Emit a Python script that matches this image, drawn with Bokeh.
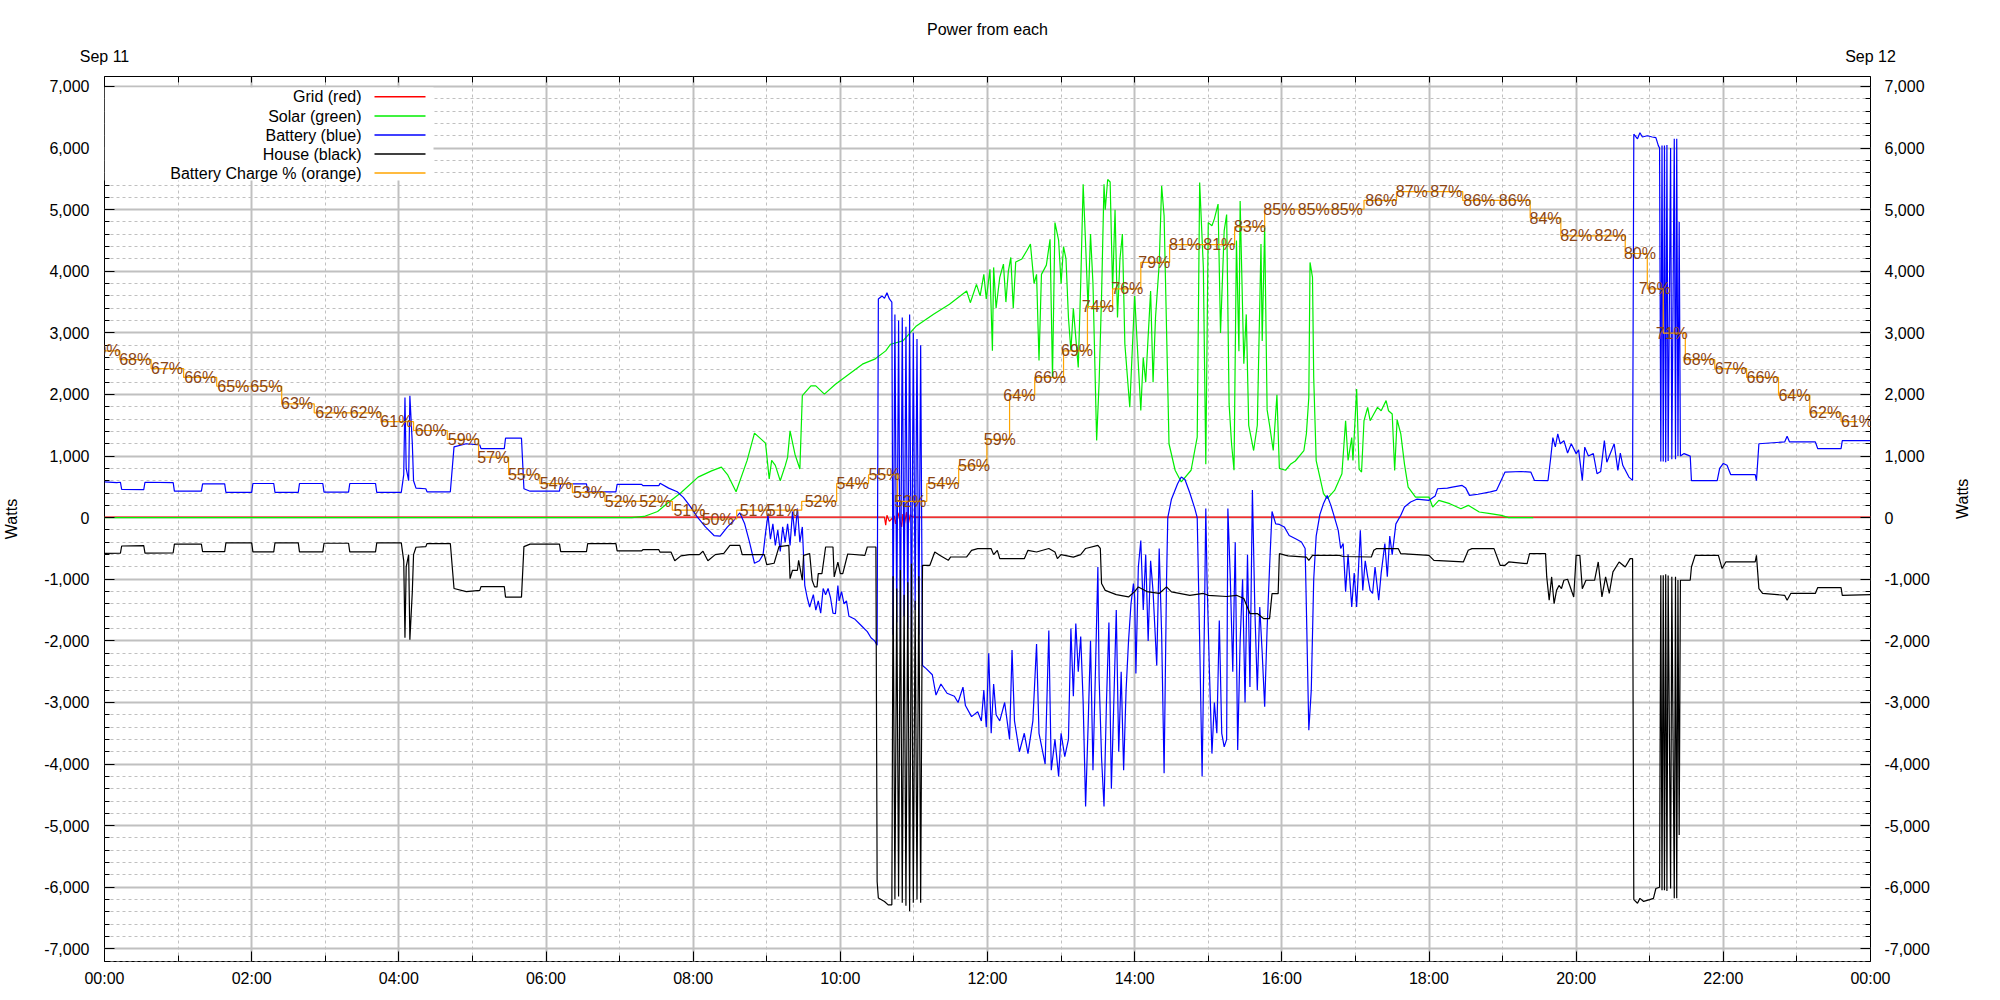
import math
from bokeh.plotting import figure
from bokeh.models import (Range1d, LinearAxis, FixedTicker, CustomJSTickFormatter,
                          NumeralTickFormatter, Label, LabelSet, BoxAnnotation, ColumnDataSource)
from bokeh.core.properties import value
from bokeh.embed import file_html
from bokeh.resources import INLINE

# ---------------- data ----------------
TITLE = "Power from each"
DAY_START = "Sep 11"
DAY_END = "Sep 12"
Y_LABEL = "Watts"
LEGEND_LABELS = ["Grid (red)", "Solar (green)", "Battery (blue)", "House (black)",
                 "Battery Charge % (orange)"]

grid_time = ["00:00", "07:10", "10:36", "10:37", "10:38", "10:40", "10:44", "10:45", "10:47",
             "10:50", "10:51", "10:52", "10:54", "10:55", "10:57", "10:58", "11:00", "24:00"]
grid_watts = [8, 8, 10, -120, 40, -60, 30, -100, 80, -150, 60, -130, 90, -140, 50, 20, 10, 10]

solar_time = ["00:00", "07:10", "07:20", "07:31", "07:40", "07:50", "08:04", "08:15", "08:23", "08:28",
              "08:35", "08:44", "08:50", "08:59", "09:02", "09:04", "09:07", "09:11", "09:15", "09:17",
              "09:19", "09:23", "09:27", "09:29", "09:36", "09:40", "09:47", "09:56", "10:07", "10:18",
              "10:28", "10:37", "10:41", "10:51", "11:02", "11:16", "11:29", "11:43", "11:46", "11:51",
              "11:54", "11:57", "11:59", "12:02", "12:04", "12:05", "12:07", "12:10", "12:13", "12:15",
              "12:17", "12:19", "12:21", "12:23", "12:28", "12:32", "12:35", "12:38", "12:40", "12:42",
              "12:44", "12:48", "12:51", "12:53", "12:55", "12:58", "13:00", "13:02", "13:04", "13:06",
              "13:08", "13:10", "13:14", "13:16", "13:18", "13:20", "13:22", "13:24", "13:26", "13:29",
              "13:31", "13:33", "13:35", "13:36", "13:38", "13:40", "13:42", "13:44", "13:46", "13:48",
              "13:50", "13:52", "13:56", "13:58", "14:00", "14:05", "14:07", "14:09", "14:13", "14:15",
              "14:17", "14:20", "14:22", "14:24", "14:28", "14:33", "14:38", "14:46", "14:51", "14:53",
              "14:56", "14:58", "15:00", "15:03", "15:05", "15:08", "15:10", "15:13", "15:15", "15:17",
              "15:19", "15:21", "15:23", "15:25", "15:26", "15:29", "15:31", "15:33", "15:37", "15:40",
              "15:43", "15:44", "15:46", "15:48", "15:50", "15:53", "15:56", "15:58", "16:03", "16:07",
              "16:11", "16:18", "16:20", "16:22", "16:23", "16:25", "16:26", "16:28", "16:34", "16:37",
              "16:43", "16:49", "16:52", "16:54", "16:57", "16:58", "17:01", "17:03", "17:05", "17:07",
              "17:10", "17:12", "17:15", "17:18", "17:21", "17:25", "17:27", "17:30", "17:32", "17:34",
              "17:37", "17:40", "17:43", "17:49", "18:00", "18:03", "18:08", "18:17", "18:26", "18:32",
              "18:41", "18:50", "18:59", "19:05", "19:25"]
solar_watts = [0, 0, 20, 100, 250, 405, 658, 760, 820, 700,
               420, 930, 1372, 1210, 630, 930, 850, 600, 840, 980,
               1410, 1030, 790, 1980, 2140, 2140, 2005, 2167, 2330, 2492,
               2573, 2708, 2816, 2870, 3113, 3302, 3464, 3680, 3490, 3788,
               3600, 3950, 3550, 4031, 2711, 4063, 3400, 3900, 4117, 3500,
               4000, 4225, 3400, 4150, 4200, 4333, 4441, 3800, 3950, 2550,
               3950, 4100, 4520, 2277, 4790, 4500, 3800, 4400, 4200, 3250,
               2711, 3400, 2440, 3800, 5413, 4441, 3400, 4603, 3800, 1252,
               2200, 3600, 5413, 5000, 5490, 5450, 3700, 5000, 3250, 4200,
               4603, 2820, 1793, 2700, 3600, 1740, 2600, 2200, 3680, 2200,
               3250, 4117, 5386, 4900, 1200, 770, 580, 770, 1307, 5440,
               4063, 866, 4790, 4740, 4850, 5090, 3000, 4660, 4920, 1847,
               1200, 770, 4500, 2700, 5140, 2500, 3300, 1500, 1090, 1500,
               4441, 2870, 4710, 1750, 1500, 1090, 1994, 800, 770, 866,
               920, 1090, 1360, 1950, 4143, 3900, 2270, 928, 389, 308,
               443, 713, 1574, 928, 1300, 928, 2090, 790, 740, 1574,
               1790, 1574, 1682, 1790, 1736, 1900, 1736, 1682, 766, 1590,
               1360, 870, 497, 335, 335, 172, 281, 227, 146, 200,
               92, 65, 38, 0, 0]

battery_time = ["00:00", "00:10", "00:13", "00:14", "00:32", "00:33", "00:56", "00:57", "01:19", "01:20",
                "01:38", "01:39", "02:00", "02:01", "02:18", "02:19", "02:38", "02:39", "02:58", "02:59",
                "03:19", "03:20", "03:41", "03:42", "04:02", "04:04", "04:05", "04:06", "04:08", "04:09",
                "04:11", "04:12", "04:14", "04:22", "04:23", "04:42", "04:45", "04:55", "05:06", "05:07",
                "05:26", "05:27", "05:40", "05:42", "05:47", "06:11", "06:12", "06:33", "06:34", "06:57",
                "06:58", "07:18", "07:19", "07:32", "07:33", "07:40", "07:47", "07:52", "07:57", "08:03",
                "08:10", "08:17", "08:22", "08:28", "08:33", "08:38", "08:42", "08:46", "08:50", "08:54",
                "08:57", "08:59", "09:01", "09:03", "09:05", "09:07", "09:09", "09:11", "09:13", "09:15",
                "09:17", "09:19", "09:21", "09:23", "09:25", "09:27", "09:29", "09:31", "09:33", "09:35",
                "09:38", "09:40", "09:42", "09:44", "09:46", "09:48", "09:50", "09:52", "09:54", "09:56",
                "09:58", "09:59", "10:01", "10:03", "10:05", "10:07", "10:12", "10:17", "10:22", "10:25",
                "10:28", "10:30", "10:31", "10:34", "10:36", "10:38", "10:40", "10:42",
                "10:43:00", "10:44:30", "10:46:00", "10:47:30", "10:49:00", "10:50:30", "10:52:00",
                "10:53:30", "10:55:00", "10:56:30", "10:58:00", "10:59:30", "11:01:00", "11:02:30",
                "11:04:00", "11:05:30", "11:07:00",
                "11:10", "11:15", "11:18", "11:22", "11:27", "11:33", "11:36",
                "11:40", "11:42", "11:47", "11:52", "11:55", "11:57", "11:59", "12:01", "12:03", "12:05",
                "12:07", "12:10", "12:14", "12:18", "12:20", "12:22", "12:26", "12:30", "12:33", "12:37",
                "12:40", "12:42", "12:44", "12:47", "12:50", "12:52", "12:55", "12:58", "13:00", "13:03",
                "13:06", "13:08", "13:10", "13:12", "13:14", "13:16", "13:18", "13:20", "13:22", "13:24",
                "13:26", "13:28", "13:30", "13:31", "13:33", "13:35", "13:37", "13:39", "13:41", "13:43",
                "13:45", "13:47", "13:49", "13:51", "13:53", "13:55", "13:57", "13:59", "14:00", "14:01",
                "14:03", "14:05", "14:07", "14:09", "14:11", "14:13", "14:15", "14:18", "14:20", "14:22",
                "14:24", "14:26", "14:27", "14:30", "14:35", "14:38", "14:41", "14:45", "14:49", "14:51",
                "14:53", "14:55", "14:57", "14:58", "14:59", "15:01", "15:03", "15:05", "15:07", "15:09",
                "15:11", "15:13", "15:15", "15:16", "15:18", "15:20", "15:22", "15:24", "15:26", "15:28",
                "15:30", "15:32", "15:34", "15:36", "15:38", "15:40", "15:42", "15:44", "15:46", "15:48",
                "15:50", "15:52", "15:55", "15:58", "16:02", "16:06", "16:12", "16:16", "16:19", "16:20",
                "16:22", "16:24", "16:26", "16:28", "16:31", "16:34", "16:37", "16:40", "16:43", "16:46",
                "16:48", "16:50", "16:52", "16:54", "16:57", "16:59", "17:01", "17:04", "17:06", "17:08",
                "17:10", "17:12", "17:14", "17:16", "17:19", "17:21", "17:24", "17:26", "17:28", "17:30",
                "17:33", "17:37", "17:40", "17:45", "17:50", "18:00", "18:05", "18:07", "18:15", "18:19",
                "18:27", "18:30", "18:33", "18:40", "18:50", "18:55", "19:02", "19:15", "19:23", "19:26",
                "19:37", "19:39", "19:41", "19:43", "19:45", "19:47", "19:50", "19:53", "19:56", "20:00",
                "20:02", "20:05", "20:07", "20:10", "20:14", "20:17", "20:20", "20:23", "20:25", "20:28",
                "20:31", "20:34", "20:36", "20:38", "20:43", "20:46", "20:47", "20:50", "20:52", "20:54",
                "20:58", "21:02", "21:05", "21:07", "21:08", "21:09", "21:10", "21:11", "21:12", "21:13",
                "21:14", "21:15", "21:17", "21:18", "21:20", "21:21", "21:22", "21:23", "21:24", "21:25",
                "21:28", "21:33", "21:34", "21:55", "21:57", "22:00", "22:03", "22:06", "22:26", "22:27",
                "22:29", "22:50", "22:52", "22:54", "23:15", "23:17", "23:36", "23:37", "24:00"]
battery_watts = [580, 570, 575, 460, 455, 575, 570, 430, 430, 550,
                 550, 410, 410, 555, 555, 410, 410, 555, 555, 415,
                 415, 555, 555, 410, 410, 700, 1950, 800, 600, 1980,
                 1200, 600, 480, 470, 420, 420, 1150, 1200, 1180, 1120,
                 1120, 1290, 1290, 470, 430, 430, 550, 550, 420, 420,
                 540, 540, 520, 520, 560, 480, 420, 330, 200, 20,
                 -150, -290, -300, -150, -50, 80, -100, -400, -740, -700,
                 -600, -250, 50, -350, -100, -450, -200, -550, -150, -400,
                 -100, -450, 100, -300, 150, -400, -150, -1100, -1300, -1450,
                 -1250, -1500, -1350, -1550, -1150, -1250, -1150, -1300, -1550, -1560,
                 -1100, -1350, -1200, -1400, -1350, -1600, -1650, -1750, -1850, -1950,
                 -2000, -2070, 3550, 3600, 3560, 3650, 3550, 3500,
                 -1900, 3300, -1700, 3200, -2000, 3250, -1600,
                 3100, -1800, 3300, -2100, 3000, -1500, 2900,
                 -1900, 2800, -2400,
                 -2450, -2550, -2880, -2700, -2850, -2900, -3000,
                 -2750, -3050, -3230, -3150, -3300, -2800, -3400, -2200, -3500, -2700,
                 -3200, -3300, -3000, -3600, -2150, -3300, -3800, -3500, -3830, -3300,
                 -2050, -3500, -3700, -4000, -1830, -4100, -3600, -4200, -3500, -3880,
                 -3600, -1800, -2900, -1720, -2500, -1930, -3000, -4690, -3400, -2000,
                 -4100, -2500, -800, -2600, -3900, -4690, -3000, -1700, -4400, -3000,
                 -1500, -3800, -2500, -4100, -2800, -2000, -1400, -1070, -1300, -2530,
                 -800, -370, -1500, -600, -2000, -700, -1200, -2400, -500, -1900,
                 -4150, -1000, 0, 300, 550, 660, 620, 400, 150, 0,
                 -2000, -4200, -1500, 150, -1000, -2530, -3830, -3000, -3500, -1670,
                 -3500, -3720, -3600, 150, -1000, -2500, -400, -3770, -2000, -1000,
                 -3000, -600, -2750, 450, -1500, -2800, -1450, -2200, -3070, -1800,
                 -800, 100, -100, -110, -150, -290, -350, -395, -500, -1450,
                 -3450, -2800, -1000, -300, 50, 232, 361, 200, 0, -206,
                 -500, -420, -1200, -600, -1450, -900, -1450, -206, -1180, -700,
                 -960, -1180, -1230, -800, -1340, -900, -420, -960, -300, -600,
                 -100, 40, 172, 254, 300, 281, 350, 470, 480, 497,
                 524, 480, 362, 380, 420, 443, 740, 750, 740, 605,
                 600, 929, 1300, 1150, 1362, 1200, 1250, 1050, 1200, 1040,
                 1100, 605, 1145, 1000, 1040, 713, 750, 1250, 900, 1050,
                 1200, 767, 1050, 850, 659, 605, 6225, 6150, 6250, 6180,
                 6200, 6180, 6170, 6040, 6000, 910, 6040, 910, 6040, 900,
                 6050, 920, 6000, 950, 6150, 950, 6150, 1000, 4800, 1000,
                 1040, 1000, 600, 600, 800, 880, 850, 700, 700, 600,
                 1200, 1230, 1320, 1230, 1230, 1120, 1120, 1250, 1250]

house_time = ["00:00", "00:13", "00:14", "00:32", "00:33", "00:56", "00:57", "01:19", "01:20", "01:38",
              "01:39", "02:00", "02:01", "02:18", "02:19", "02:38", "02:39", "02:58", "02:59", "03:19",
              "03:20", "03:41", "03:42", "04:02", "04:04", "04:05", "04:06", "04:08", "04:09", "04:11",
              "04:12", "04:14", "04:22", "04:23", "04:42", "04:45", "04:55", "05:06", "05:07", "05:26",
              "05:27", "05:40", "05:42", "05:47", "06:11", "06:12", "06:33", "06:34", "06:57", "06:58",
              "07:18", "07:19", "07:32", "07:33", "07:42", "07:45", "07:50", "07:57", "08:05", "08:08",
              "08:12", "08:18", "08:25", "08:30", "08:38", "08:40", "08:58", "09:00", "09:06", "09:10",
              "09:18", "09:19", "09:21", "09:25", "09:26", "09:29", "09:30", "09:35", "09:37", "09:39",
              "09:41", "09:42", "09:45", "09:48", "09:54", "09:55", "09:58", "10:00", "10:02", "10:06",
              "10:20", "10:22", "10:29", "10:30", "10:31", "10:36", "10:39", "10:42",
              "10:43:00", "10:44:30", "10:46:00", "10:47:30", "10:49:00", "10:50:30", "10:52:00",
              "10:53:30", "10:55:00", "10:56:30", "10:58:00", "10:59:30", "11:01:00", "11:02:30",
              "11:04:00", "11:05:30", "11:07:00",
              "11:13", "11:17", "11:21", "11:28", "11:30", "11:43", "11:47",
              "11:52", "12:03", "12:05", "12:08", "12:10", "12:30", "12:33", "12:40", "12:50", "12:55",
              "12:57", "13:00", "13:10", "13:16", "13:20", "13:30", "13:32", "13:33", "13:36", "13:45",
              "13:55", "14:00", "14:03", "14:10", "14:20", "14:26", "14:30", "14:45", "14:56", "15:00",
              "15:15", "15:23", "15:29", "15:34", "15:40", "15:45", "15:50", "15:52", "15:57", "15:58",
              "16:05", "16:20", "16:22", "16:25", "16:47", "16:50", "17:13", "17:15", "17:17", "17:35",
              "17:37", "18:00", "18:04", "18:28", "18:32", "18:35", "18:53", "18:58", "19:02", "19:05",
              "19:20", "19:22", "19:35", "19:36", "19:38", "19:40", "19:42", "19:44", "19:46", "19:48",
              "19:50", "19:53", "19:58", "20:00", "20:03", "20:05", "20:08", "20:15", "20:18", "20:21",
              "20:24", "20:27", "20:30", "20:35", "20:40", "20:44", "20:46", "20:47", "20:50", "20:52",
              "20:55", "21:00", "21:03", "21:05", "21:08", "21:09", "21:10", "21:11", "21:12", "21:13",
              "21:14", "21:15", "21:17", "21:18", "21:20", "21:21", "21:22", "21:23", "21:24", "21:25",
              "21:33", "21:34", "21:37", "21:56", "21:59", "22:02", "22:26", "22:27", "22:29", "22:32",
              "22:50", "22:52", "22:55", "23:15", "23:17", "23:36", "23:37", "24:00"]
house_watts = [-580, -575, -460, -455, -575, -570, -430, -430, -550, -550,
               -410, -410, -555, -555, -410, -410, -555, -555, -415, -415,
               -555, -555, -410, -410, -700, -1950, -800, -600, -1980, -1200,
               -600, -480, -470, -420, -420, -1150, -1200, -1180, -1120, -1120,
               -1290, -1290, -470, -430, -430, -550, -550, -420, -420, -540,
               -540, -520, -520, -560, -560, -700, -620, -600, -600, -545,
               -700, -600, -580, -450, -450, -600, -600, -762, -740, -470,
               -450, -990, -854, -854, -692, -1016, -611, -584, -1016, -1124,
               -1124, -908, -908, -476, -476, -962, -720, -908, -908, -590,
               -611, -476, -476, -5906, -6175, -6230, -6285, -6285,
               -950, -6200, -1150, -6150, -850, -6250, -1250,
               -6300, -1050, -6390, -750, -6250, -1350, -6200,
               -950, -6250, -773,
               -773, -557, -611, -692, -638, -638, -530,
               -503, -503, -600, -530, -665, -665, -530, -557, -500, -557,
               -665, -600, -640, -600, -500, -449, -500, -1070, -1180, -1250,
               -1287, -1200, -1124, -1200, -1230, -1124, -1205, -1260, -1230, -1260,
               -1280, -1260, -1313, -1557, -1557, -1638, -1638, -1233, -1233, -584,
               -620, -640, -692, -611, -611, -630, -638, -530, -503, -503,
               -584, -611, -692, -719, -530, -503, -503, -773, -773, -719,
               -746, -584, -584, -962, -1340, -962, -1395, -1180, -1100, -1150,
               -1016, -1000, -1287, -611, -611, -1152, -1016, -1016, -719, -1287,
               -960, -1230, -880, -719, -800, -665, -665, -6200, -6260, -6180,
               -6230, -6200, -6180, -6020, -6000, -935, -6050, -935, -6050, -920,
               -6060, -940, -6020, -960, -6180, -960, -6180, -1010, -5150, -1016,
               -1016, -800, -611, -611, -826, -719, -719, -611, -1152, -1230,
               -1260, -1340, -1230, -1230, -1135, -1135, -1260, -1250]

charge_time = ["00:00", "00:25", "00:51", "01:18", "01:45", "02:12", "02:37", "03:05", "03:33", "03:58",
               "04:26", "04:53", "05:17", "05:42", "06:08", "06:35", "07:01", "07:29", "07:57", "08:20",
               "08:51", "09:13", "09:44", "10:10", "10:36", "10:57", "11:24", "11:49", "12:10", "12:26",
               "12:51", "13:13", "13:30", "13:54", "14:16", "14:41", "15:09", "15:34", "15:58", "16:26",
               "16:53", "17:21", "17:46", "18:14", "18:41", "19:10", "19:35", "20:00", "20:28", "20:52",
               "21:04", "21:18", "21:40", "22:06", "22:32", "22:58", "23:23", "23:49"]
charge_pct = [69, 68, 67, 66, 65, 65, 63, 62, 62, 61,
              60, 59, 57, 55, 54, 53, 52, 52, 51, 50,
              51, 51, 52, 54, 55, 52, 54, 56, 59, 64,
              66, 69, 74, 76, 79, 81, 81, 83, 85, 85,
              85, 86, 87, 87, 86, 86, 84, 82, 82, 80,
              76, 71, 68, 67, 66, 64, 62, 61]

# ---------------- helpers / style ----------------
def hours(ts):
    out = []
    for t in ts:
        parts = [int(v) for v in t.split(":")]
        sec = parts[2] if len(parts) > 2 else 0
        out.append(parts[0] + parts[1] / 60.0 + sec / 3600.0)
    return out

FONT = "Liberation Sans"
SERIES_COLORS = ["#ff0000", "#00ee00", "#0000ff", "#000000", "#ffa500"]
LABEL_COLOR = "#8b4513"
GRID_COLOR = "#c0c0c0"
LW = 1.2

W, H = 2000, 1000
p = figure(width=W, height=H, x_range=Range1d(0, 24), y_range=Range1d(-7205, 7162),
           output_backend="svg", toolbar_location=None,
           min_border_left=104, min_border_right=130, min_border_top=76, min_border_bottom=39,
           background_fill_color="white", border_fill_color="white")
p.extra_y_ranges = {"pct": Range1d(0, 100)}
p.outline_line_color = "black"
p.outline_line_width = 1

p.title.text = TITLE
p.title.align = "center"
p.title.text_font = FONT
p.title.text_font_size = "16px"
p.title.text_font_style = "normal"
p.title.text_color = "black"
p.title.standoff = 14

# tickers
x_ticker = FixedTicker(ticks=list(range(0, 25, 2)), minor_ticks=list(range(1, 24, 2)))
y_ticker = FixedTicker(ticks=list(range(-7000, 7001, 1000)),
                       minor_ticks=[v for v in range(-7200, 7201, 200) if v % 1000 != 0])
hour_fmt = CustomJSTickFormatter(code="const h = Math.round(tick) % 24; return (h < 10 ? '0' : '') + h + ':00';")
watt_fmt = NumeralTickFormatter(format="0,0")


def style_axis(ax, tick_in, minor_in, standoff):
    ax.axis_line_color = None
    ax.major_tick_in = tick_in
    ax.major_tick_out = 0
    ax.minor_tick_in = minor_in
    ax.minor_tick_out = 0
    ax.major_tick_line_color = "black"
    ax.minor_tick_line_color = "black"
    ax.major_label_standoff = standoff
    ax.major_label_text_font = FONT
    ax.major_label_text_font_size = "16px"
    ax.major_label_text_color = "black"
    ax.axis_label_text_font = FONT
    ax.axis_label_text_font_size = "16px"
    ax.axis_label_text_font_style = "normal"
    ax.axis_label_text_color = "black"


bottom = p.xaxis[0]
bottom.ticker = x_ticker
bottom.formatter = hour_fmt
style_axis(bottom, 10, 6, 8)

left = p.yaxis[0]
left.ticker = y_ticker
left.formatter = watt_fmt
left.axis_label = Y_LABEL
style_axis(left, 10, 5, 15)
left.axis_label_standoff = 21

right = LinearAxis(ticker=y_ticker, formatter=watt_fmt, axis_label=Y_LABEL)
style_axis(right, 10, 5, 14)
right.axis_label_standoff = 30
right.axis_label_orientation = math.pi / 2
p.add_layout(right, "right")

top = LinearAxis(ticker=FixedTicker(ticks=[0, 24], minor_ticks=list(range(1, 24))),
                 formatter=CustomJSTickFormatter(
                     code="return tick < 12 ? %r : %r;" % (DAY_START, DAY_END)))
style_axis(top, 10, 6, 12)
p.add_layout(top, "above")

p.xgrid.ticker = x_ticker
p.ygrid.ticker = y_ticker
for g in (p.xgrid[0], p.ygrid[0]):
    g.grid_line_color = GRID_COLOR
    g.grid_line_width = 2
    g.minor_grid_line_color = GRID_COLOR
    g.minor_grid_line_width = 1
    g.minor_grid_line_dash = "3 3"

# ---------------- series ----------------
p.line(hours(grid_time), grid_watts, color=SERIES_COLORS[0], line_width=LW)
p.line(hours(solar_time), solar_watts, color=SERIES_COLORS[1], line_width=LW)
p.line(hours(battery_time), battery_watts, color=SERIES_COLORS[2], line_width=LW)
p.line(hours(house_time), house_watts, color=SERIES_COLORS[3], line_width=LW)
p.step(hours(charge_time), charge_pct, mode="center", y_range_name="pct",
       color=SERIES_COLORS[4], line_width=LW)
charge_src = ColumnDataSource(dict(x=hours(charge_time), y=charge_pct,
                                   t=["%d%%" % v for v in charge_pct]))
p.add_layout(LabelSet(x="x", y="y", text="t", source=charge_src, y_range_name="pct",
                      text_align="center", text_baseline="middle", text_font=value(FONT),
                      text_font_size="16px", text_color=LABEL_COLOR))

# ---------------- legend (gnuplot style: text right, sample at right) ----------------
FRAME_H = 885
p.add_layout(BoxAnnotation(left=0, right=329, top=FRAME_H - 11, bottom=FRAME_H - 104,
                           left_units="screen", right_units="screen",
                           top_units="screen", bottom_units="screen",
                           fill_color="white", fill_alpha=1.0, line_color=None))
row_offsets = [20.2, 39.5, 58.5, 77.5, 96.5]
for lab, col, off in zip(LEGEND_LABELS, SERIES_COLORS, row_offsets):
    yy = FRAME_H - off
    p.add_layout(BoxAnnotation(left=270, right=321, top=yy + 0.7, bottom=yy - 0.7,
                               left_units="screen", right_units="screen",
                               top_units="screen", bottom_units="screen",
                               fill_color=col, fill_alpha=1.0, line_color=None))
    p.add_layout(Label(x=257, y=yy, x_units="screen", y_units="screen", text=lab,
                       text_align="right", text_baseline="middle", text_font=FONT,
                       text_font_size="16px", text_color="black"))

open("out.html", "w").write(file_html(p, INLINE))
